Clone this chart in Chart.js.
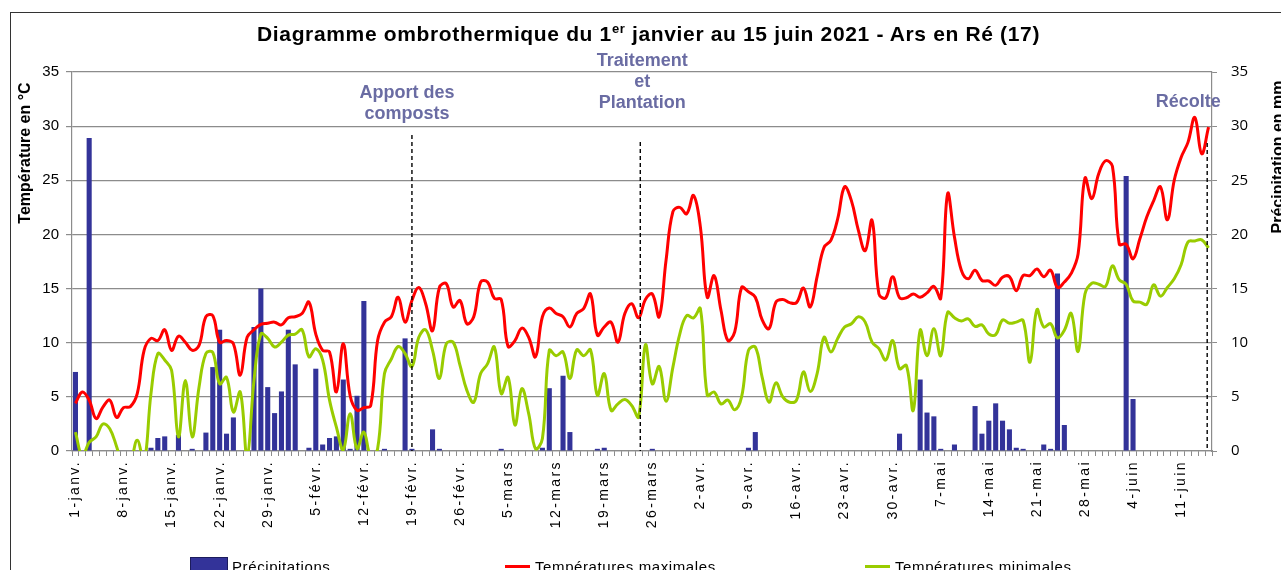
<!DOCTYPE html>
<html lang="fr">
<head>
<meta charset="utf-8">
<title>Diagramme ombrothermique - Ars en Ré</title>
<script src="https://cdn.jsdelivr.net/npm/chart.js@4.4.0/dist/chart.umd.min.js"></script>
<style>
  body { margin: 0; background: #fff; }
  #wrap { position: relative; width: 1281px; height: 570px; overflow: hidden; font-family: "Liberation Sans", Arial, sans-serif; }
  #frame { position: absolute; left: 10px; top: 12px; width: 1400px; height: 700px; border: 1px solid #333; box-sizing: border-box; }
  #title { position: absolute; left: 257px; top: 22px; font-weight: bold; font-size: 21px; letter-spacing: 0.65px; white-space: nowrap; color: #000; }
  #title sup { font-size: 13px; line-height: 0; vertical-align: 8px; }
  canvas { position: absolute; left: 0; top: 0; }
  .leg { position: absolute; top: 558px; font-size: 15px; white-space: nowrap; letter-spacing: 0.6px; color: #000; }
  .swatch { position: absolute; }
</style>
</head>
<body>
<div id="wrap">
  <div id="frame"></div>
  <canvas id="ombro" width="1281" height="570"></canvas>
  <div id="title">Diagramme ombrothermique du 1<sup>er</sup> janvier au 15 juin 2021 - Ars en Ré (17)</div>
  <div class="swatch" style="left:190px;top:557px;width:38px;height:16px;background:#333399;border:1px solid #1c1c5c;box-sizing:border-box;"></div>
  <div class="leg" style="left:232px;">Précipitations</div>
  <div class="swatch" style="left:505px;top:565px;width:25px;height:3px;background:#ff0000;"></div>
  <div class="leg" style="left:535px;">Températures maximales</div>
  <div class="swatch" style="left:865px;top:565px;width:25px;height:3px;background:#99cc00;"></div>
  <div class="leg" style="left:895px;">Températures minimales</div>
</div>
<script>
// calendar : 1 janv. -> 15 juin 2021
const monthNames = ['janv.', 'févr.', 'mars', 'avr.', 'mai', 'juin'];
const monthLengths = [31, 28, 31, 30, 31, 15];

// one label every 7 days
const tickLabels = ['1-janv.', '8-janv.', '15-janv.', '22-janv.', '29-janv.', '5-févr.', '12-févr.', '19-févr.',
  '26-févr.', '5-mars', '12-mars', '19-mars', '26-mars', '2-avr.', '9-avr.', '16-avr.', '23-avr.', '30-avr.',
  '7-mai', '14-mai', '21-mai', '28-mai', '4-juin', '11-juin'];

// daily precipitation (mm)
const precipitations = [
  7.3, 0, 28.9, 0, 0, 0, 0,
  0, 0, 0, 0, 0.3, 1.2, 1.35,
  0, 1.5, 0, 0.2, 0, 1.7, 7.75,
  11.2, 1.6, 3.1, 0, 0, 11.45, 15.0,
  5.9, 3.5, 5.5, 11.2, 8.0, 0, 0.3,
  7.6, 0.6, 1.2, 1.35, 6.6, 0.2, 5.1,
  13.85, 0, 0, 0.2, 0, 0, 10.4,
  0.2, 0, 0, 2.0, 0.2, 0, 0,
  0, 0, 0, 0, 0, 0, 0.2,
  0, 0, 0, 0, 0, 0.3, 5.8,
  0, 6.95, 1.75, 0, 0, 0, 0.2,
  0.3, 0, 0, 0, 0, 0, 0,
  0.2, 0, 0, 0, 0, 0, 0,
  0, 0, 0, 0, 0, 0, 0,
  0.3, 1.75, 0, 0, 0, 0, 0,
  0, 0, 0, 0, 0, 0, 0,
  0, 0, 0, 0, 0, 0, 0,
  0, 1.6, 0, 0, 6.6, 3.55, 3.2,
  0.2, 0, 0.6, 0, 0, 4.15, 1.6,
  2.8, 4.4, 2.8, 2.0, 0.3, 0.2, 0,
  0, 0.6, 0.2, 16.4, 2.4, 0, 0,
  0, 0, 0, 0, 0, 0, 25.4,
  4.8, 0, 0, 0, 0, 0, 0,
  0, 0, 0, 0, 0
];

// daily max temperature (°C)
const tempMax = [
  4.4, 5.45, 4.7, 3.0, 4.05, 4.7, 3.1,
  4.0, 4.1, 5.3, 9.3, 10.4, 10.2, 11.2,
  9.3, 10.6, 10.05, 9.3, 9.75, 12.4, 12.5,
  10.05, 10.2, 9.9, 7.0, 10.5, 11.2, 11.7,
  11.8, 11.9, 11.65, 12.3, 12.4, 12.7, 13.75,
  10.8, 9.3, 9.15, 5.45, 9.9, 5.1, 3.75,
  4.0, 4.2, 10.2, 11.9, 12.4, 14.2, 11.9,
  13.9, 15.1, 13.6, 11.1, 15.1, 15.45, 13.3,
  13.9, 11.75, 12.4, 15.6, 15.6, 14.1, 14.0,
  9.65, 10.2, 11.35, 10.5, 8.7, 12.4, 13.2,
  12.7, 12.4, 11.45, 12.7, 13.15, 14.5, 10.7,
  11.45, 11.9, 10.05, 12.7, 13.6, 12.3, 14.0,
  14.5, 12.4, 17.6, 22.1, 22.5, 21.9, 23.6,
  20.7, 14.2, 16.2, 13.0, 10.2, 11.0, 15.1,
  14.7, 14.2, 12.1, 11.3, 13.75, 14.0, 13.7,
  13.7, 15.05, 13.3, 16.1, 18.8, 19.45, 21.45,
  24.4, 23.1, 20.4, 18.5, 21.3, 14.5, 14.15,
  16.1, 14.15, 14.15, 14.5, 14.2, 14.6, 15.2,
  14.1, 23.75, 19.75, 16.7, 15.9, 16.7, 15.75,
  15.7, 15.3, 16.05, 16.1, 14.8, 16.2, 16.2,
  16.8, 16.1, 16.7, 15.1, 15.6, 16.4, 18.2,
  25.2, 23.3, 25.6, 26.8, 26.3, 19.1, 19.1,
  17.75, 19.6, 21.6, 23.1, 24.4, 21.35, 25.0,
  27.1, 28.5, 30.8, 27.45, 29.9
];

// daily min temperature (°C)
const tempMin = [
  1.75, -0.5, 0.8, 1.3, 2.5, 2.05, 0.4,
  -1.5, -1.0, 1.0, -1.0, 5.3, 9.0, 8.4,
  7.45, 1.3, 6.5, 1.3, 5.9, 9.0, 9.1,
  6.2, 6.8, 3.6, 5.45, -0.5, 6.5, 10.8,
  10.4, 9.6, 10.05, 10.7, 10.8, 11.2, 8.7,
  9.45, 8.4, 4.7, 2.2, 0.1, 3.45, 0.2,
  1.75, -0.5, 0.2, 7.15, 8.5, 9.65, 9.0,
  7.8, 10.5, 11.2, 9.3, 6.7, 9.9, 10.05,
  7.9, 5.6, 4.5, 7.15, 8.05, 9.6, 5.3,
  6.8, 2.4, 5.75, 3.45, 0.2, 1.15, 9.3,
  8.8, 9.15, 6.7, 9.35, 8.8, 9.35, 5.15,
  7.15, 3.75, 4.35, 4.75, 4.2, 3.15, 9.8,
  6.2, 7.8, 4.6, 7.75, 10.8, 12.5, 12.3,
  13.15, 5.15, 5.45, 4.35, 4.7, 3.8, 5.0,
  9.3, 9.6, 6.8, 4.5, 6.3, 5.0, 4.5,
  4.7, 7.3, 5.5, 7.15, 10.5, 9.15, 10.4,
  11.45, 11.75, 12.4, 11.9, 10.05, 9.45, 8.4,
  10.2, 7.6, 7.9, 3.75, 11.15, 8.8, 11.3,
  8.8, 12.8, 12.3, 12.0, 12.2, 11.5, 11.65,
  10.8, 10.75, 12.1, 11.8, 11.9, 12.05, 8.2,
  13.05, 11.45, 11.75, 10.45, 11.15, 12.7, 9.2,
  14.5, 15.5, 15.4, 15.2, 17.1, 15.8, 15.4,
  13.85, 13.75, 13.55, 15.35, 14.3, 15.1, 15.9,
  17.2, 19.3, 19.4, 19.5, 18.75
];

// field events (day index from 1 janv.) and their labels
const eventDays = [49, 82.25, 164.8];
const eventLabels = [['Apport des', 'composts'], ['Traitement', 'et', 'Plantation'], ['Récolte']];
const eventStyle = [
  { dx: -5, baseY: 98, lineTop: 135 },
  { dx: 2, baseY: 66, lineTop: 142 },
  { dx: -19, baseY: 107, lineTop: 143 }
];

const days = [];
monthLengths.forEach((len, m) => {
  for (let d = 1; d <= len; d++) days.push(d + '-' + monthNames[m]);
});

const GRID = '#8c8c8c';
const FONT = '"Liberation Sans", Arial, sans-serif';

const overlayPlugin = {
  id: 'overlay',
  afterDatasetsDraw(chart) {
    const { ctx, scales: { x, y } } = chart;
    const bottom = y.getPixelForValue(0);
    ctx.save();
    // dashed event lines + labels
    eventDays.forEach((day, i) => {
      const px = x.getPixelForValue(day);
      const st = eventStyle[i];
      ctx.beginPath();
      ctx.setLineDash([4, 3]);
      ctx.lineWidth = 1.4;
      ctx.strokeStyle = '#000';
      ctx.moveTo(px, st.lineTop);
      ctx.lineTo(px, bottom);
      ctx.stroke();
      ctx.setLineDash([]);
      ctx.font = 'bold 18px ' + FONT;
      ctx.fillStyle = '#6a6ca3';
      ctx.textAlign = 'center';
      ctx.textBaseline = 'alphabetic';
      eventLabels[i].forEach((txt, k) => ctx.fillText(txt, px + st.dx, st.baseY + k * 21));
    });
    // axis titles
    ctx.font = 'bold 16px ' + FONT;
    ctx.fillStyle = '#000';
    ctx.textAlign = 'center';
    ctx.textBaseline = 'middle';
    ctx.translate(26, 153);
    ctx.rotate(-Math.PI / 2);
    ctx.fillText('Température en °C', 0, 0);
    ctx.setTransform(1, 0, 0, 1, 0, 0);
    ctx.translate(1279, 157);
    ctx.rotate(-Math.PI / 2);
    ctx.fillText('Précipitation en mm', 0, 0);
    ctx.restore();
    // date labels are drawn after this hook (ticks.z = 1), spaced out like the original
    ctx.letterSpacing = '2.4px';
  },
  afterDraw(chart) {
    chart.ctx.letterSpacing = '0px';
  }
};

new Chart(document.getElementById('ombro'), {
  type: 'bar',
  data: {
    labels: days,
    datasets: [
      {
        type: 'line',
        label: 'Températures maximales',
        data: tempMax,
        yAxisID: 'y',
        borderColor: '#ff0000',
        borderWidth: 3,
        pointRadius: 0,
        tension: 0.4,
        clip: 0,
        order: 1
      },
      {
        type: 'line',
        label: 'Températures minimales',
        data: tempMin,
        yAxisID: 'y',
        borderColor: '#99cc00',
        borderWidth: 3,
        pointRadius: 0,
        tension: 0.4,
        clip: 0,
        order: 2
      },
      {
        label: 'Précipitations',
        data: precipitations,
        yAxisID: 'y1',
        backgroundColor: '#333399',
        barPercentage: 0.74,
        categoryPercentage: 1,
        order: 3
      }
    ]
  },
  options: {
    responsive: false,
    animation: false,
    layout: { padding: { top: 72, left: 0, right: 0, bottom: 0 } },
    plugins: {
      legend: { display: false },
      title: { display: false },
      tooltip: { enabled: false }
    },
    scales: {
      x: {
        offset: true,
        afterFit: (s) => { s.height = 119; },
        grid: { display: true, drawOnChartArea: false, offset: true, tickLength: 5, color: GRID },
        border: { color: GRID, width: 1.2 },
        ticks: {
          z: 1,
          autoSkip: false,
          minRotation: 90,
          maxRotation: 90,
          padding: 4,
          color: '#000',
          font: { family: FONT, size: 14 },
          callback: (val, idx) => (idx % 7 === 0 ? tickLabels[idx / 7] : '')
        }
      },
      y: {
        position: 'left',
        min: 0,
        max: 35,
        afterFit: (s) => { s.width = 72; },
        grid: { color: GRID, lineWidth: 1.2, tickLength: 6 },
        border: { color: GRID, width: 1.2 },
        ticks: { stepSize: 5, padding: 7, color: '#000', font: { family: FONT, size: 15 } }
      },
      y1: {
        position: 'right',
        min: 0,
        max: 35,
        afterFit: (s) => { s.width = 69; },
        grid: { drawOnChartArea: false, color: GRID, tickLength: 5 },
        border: { color: GRID, width: 1.2 },
        ticks: { stepSize: 5, padding: 14, color: '#000', font: { family: '"Open Sans", sans-serif', size: 15 } }
      }
    }
  },
  plugins: [overlayPlugin]
});
</script>
</body>
</html>
